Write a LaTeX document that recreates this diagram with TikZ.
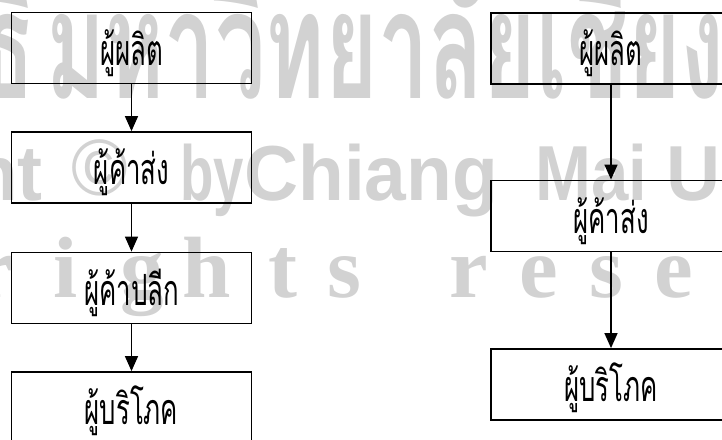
\documentclass[tikz,border=0pt]{standalone}
\usepackage{fontspec}
\usetikzlibrary{arrows.meta}
% Thai faces: box labels and the large background lettering
\newfontfamily\thaibox[Script=Thai,FakeStretch=0.6]{Loma}
\newfontfamily\thaiwm[Script=Thai,FakeStretch=0.6]{Loma}
\newfontfamily\wmsans[FakeStretch=0.96]{Liberation Sans}
\newfontfamily\wmsansmid[FakeStretch=0.86]{Liberation Sans}
\newfontfamily\wmsansnarrow[FakeStretch=0.7]{Liberation Sans}
\newfontfamily\wmserif{Liberation Serif}
\definecolor{wmgray}{HTML}{D2D2D2}

\begin{document}
\begin{tikzpicture}[x=1pt,y=-1pt,
  flowbox/.style={draw=black,line width=1.8pt,minimum width=240pt,
    minimum height=71pt,inner sep=0pt,text height=38pt,text depth=4pt,
    font=\thaibox\fontsize{43}{43}\selectfont},
  flowarrow/.style={line width=1.4pt,-{Triangle[length=15pt,width=13pt]}},
  wmtext/.style={text=wmgray,inner sep=0pt},
  wmthai/.style={wmtext,font=\thaiwm\bfseries\fontsize{150}{150}\selectfont},
  wmlatin/.style={wmtext,font=\wmsans\bfseries\fontsize{78}{78}\selectfont},
  wmletter/.style={wmtext,anchor=base,font=\wmserif\bfseries\fontsize{87}{87}\selectfont}
]
\useasboundingbox (0,0) rectangle (722,439);
\clip (0,0) rectangle (722,439);

% background lettering
\node[wmthai,anchor=base east] (wa) at (36,98) {ลิขสิทธิ์};
\node[wmthai,anchor=base west] (wb) at (46,98) {มหาวิทยาลัยเชียงใหม่};

\node[wmlatin,anchor=base east] (wc) at (43,200) {Copyright};
\node[wmtext,font=\wmsans\fontsize{80}{80}\selectfont] (wd) at (100,168) {©};
\node[wmlatin,font=\wmsansnarrow\bfseries\fontsize{78}{78}\selectfont,anchor=base west] (we) at (180,200) {by};
\node[wmlatin,anchor=base west] (wf) at (244,200) {Chiang};
\node[wmlatin,font=\wmsansmid\bfseries\fontsize{78}{78}\selectfont,anchor=base west] (wg) at (535,200) {Mai};
\node[wmlatin,anchor=base west] (wh) at (666,200) {University};

\foreach \ch/\xx [count=\k] in {r/-6,i/66,g/142,h/207,t/283,s/344,r/469,e/539,s/606,e/674}
  \node[wmletter] (wl\k) at (\xx,297) {\ch};

% left chain
\node[flowbox] (l1) at (131.5,48)    {ผู้ผลิต};
\node[flowbox] (l2) at (131.5,167.5) {ผู้ค้าส่ง};
\node[flowbox] (l3) at (131.5,288)   {ผู้ค้าปลีก};
\node[flowbox] (l4) at (131.5,407.5) {ผู้บริโภค};

% right chain
\node[flowbox] (r1) at (611,48.5)  {ผู้ผลิต};
\node[flowbox] (r2) at (611,216)   {ผู้ค้าส่ง};
\node[flowbox] (r3) at (611,384.5) {ผู้บริโภค};

\draw[flowarrow] (l1) -- (l2);
\draw[flowarrow] (l2) -- (l3);
\draw[flowarrow] (l3) -- (l4);
\draw[flowarrow] (r1) -- (r2);
\draw[flowarrow] (r2) -- (r3);
\end{tikzpicture}
\end{document}
